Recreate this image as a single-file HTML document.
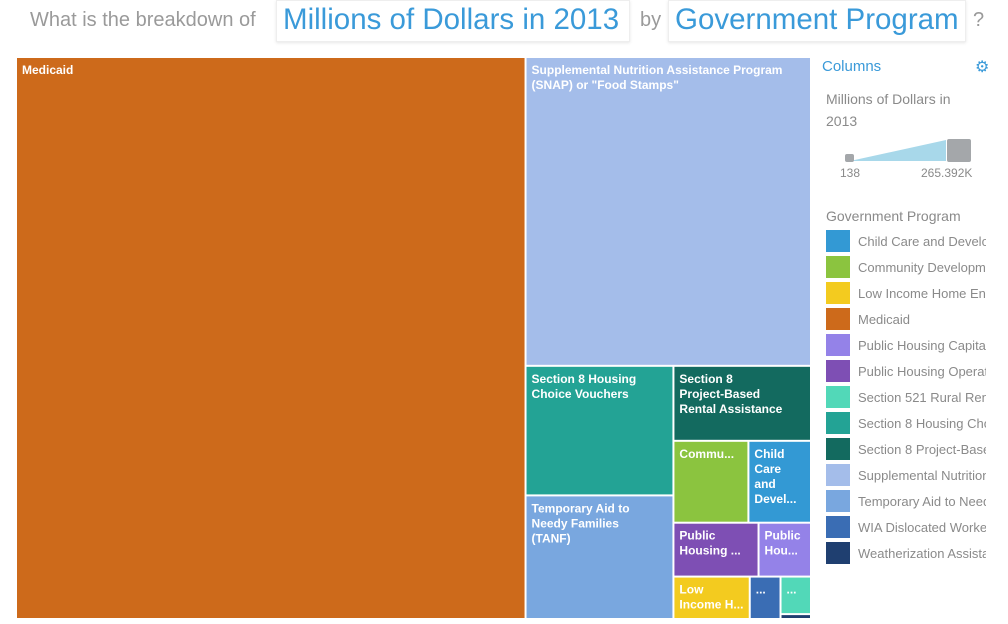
<!DOCTYPE html>
<html><head><meta charset="utf-8"><style>
body{margin:0;width:1008px;height:624px;overflow:hidden;background:#fff;font-family:"Liberation Sans",sans-serif;position:relative}
.q{position:absolute;color:#9a9a9a;font-size:20px;top:9px}
.box{position:absolute;top:0;height:42px;border:1px solid #eee;box-shadow:0 1px 3px rgba(0,0,0,.1);color:#3a9ad9;font-size:29.5px;line-height:38px;padding:0 6px;box-sizing:border-box;white-space:nowrap}
#legend{position:absolute;left:826px;top:228px;width:160px;overflow:hidden}
.li{height:26px;display:flex;align-items:center;font-size:13px;color:#8a8a8a;white-space:nowrap}
.sw{width:24px;height:22px;margin-right:8px;flex:none}
</style></head><body>
<div class="q" style="left:30px">What is the breakdown of</div>
<div class="box" style="left:276px;width:354px">Millions of Dollars in 2013</div>
<div class="q" style="left:640px">by</div>
<div class="box" style="left:668px;width:298px">Government Program</div>
<div class="q" style="left:973px">?</div>

<svg id="tm" width="1008" height="624" style="position:absolute;left:0;top:0"></svg>

<div style="position:absolute;left:822px;top:58px;color:#3a9ad9;font-size:15px">Columns</div>
<div style="position:absolute;left:975px;top:57px;color:#3a9ad9;font-size:16px">⚙</div>
<div style="position:absolute;left:826px;top:88px;color:#8a8a8a;font-size:14px;line-height:22px;width:150px">Millions of Dollars in 2013</div>
<svg style="position:absolute;left:840px;top:136px" width="140" height="45">
<polygon points="10,25 106,4 106,25" fill="#a8d8ea"/>
<rect x="5" y="18" width="9" height="8" rx="2" fill="#a4a7aa"/>
<rect x="107" y="3" width="24" height="23" rx="2" fill="#a4a7aa"/>
<text x="0" y="41" font-size="12" fill="#8a8a8a" font-family="Liberation Sans">138</text>
<text x="81" y="41" font-size="12" fill="#8a8a8a" font-family="Liberation Sans">265.392K</text>
</svg>
<div style="position:absolute;left:826px;top:208px;color:#8a8a8a;font-size:14px">Government Program</div>
<div id="legend"></div>

<script>
const programs=["Medicaid","Supplemental Nutrition Assistance Program (SNAP) or \"Food Stamps\"","Section 8 Housing Choice Vouchers","Temporary Aid to Needy Families (TANF)","Section 8 Project-Based Rental Assistance","Community Development Block Grant","Child Care and Development Fund","Public Housing Operating Fund","Public Housing Capital Fund","Low Income Home Energy Assistance","WIA Dislocated Workers","Section 521 Rural Rental Assistance","Weatherization Assistance"];
const values=[265392,81700,17760,16940,9560,5690,4750,4250,2620,3000,1210,1060,138];
const colors=["#cd6a1b","#a4bdea","#23a395","#79a7df","#136a5f","#8bc43f","#3399d4","#7e4fb4","#9482e8","#f3cb1f","#3a6db4","#52d8b8","#1f3f70"];
const labels=["Medicaid","Supplemental Nutrition Assistance Program|(SNAP) or \"Food Stamps\"","Section 8 Housing|Choice Vouchers","Temporary Aid to|Needy Families|(TANF)","Section 8|Project-Based|Rental Assistance","Commu...","Child|Care|and|Devel...","Public|Housing ...","Public|Hou...","Low|Income H...","...","...",""];
const legendOrder=[6,5,9,0,8,7,11,2,4,1,3,10,12];
const tree={d:'h',c:[0,{d:'v',c:[1,{d:'h',c:[{d:'v',c:[2,3]},{d:'v',c:[4,{d:'h',c:[5,6]},{d:'h',c:[7,8]},{d:'h',c:[9,10,{d:'v',c:[11,12]}]}]}]}]}]};
function sum(n){return typeof n==='number'?values[n]:n.c.reduce((a,b)=>a+sum(b),0);}
const svg=document.getElementById('tm');const NS='http://www.w3.org/2000/svg';
function lay(n,x,y,w,h){
 if(typeof n==='number'){draw(n,x,y,w,h);return;}
 const t=sum(n);let p=0;
 n.c.forEach(c=>{const f=sum(c)/t;
  if(n.d==='h'){lay(c,x+p,y,w*f,h);p+=w*f;}else{lay(c,x,y+p,w,h*f);p+=h*f;}});
}
function draw(i,x,y,w,h){
 const r=document.createElementNS(NS,'rect');
 r.setAttribute('x',x+1);r.setAttribute('y',y+1);r.setAttribute('width',Math.max(0,w-2));r.setAttribute('height',Math.max(0,h-2));r.setAttribute('fill',colors[i]);
 
 
 svg.appendChild(r);
 if(!labels[i])return;
 labels[i].split('|').forEach((s,k)=>{
  const t=document.createElementNS(NS,'text');
  t.setAttribute('x',x+6);t.setAttribute('y',y+17+k*15);t.setAttribute('fill','#fff');t.setAttribute('font-size','12');t.setAttribute('font-weight','bold');t.setAttribute('font-family','Liberation Sans, sans-serif');
  t.textContent=s;
  
  
  svg.appendChild(t);});
}
lay(tree,16,57,795,562);
const lg=document.getElementById('legend');
legendOrder.forEach(i=>{const d=document.createElement('div');d.className='li';
 
 
 d.innerHTML='<div class="sw" style="background:'+colors[i]+'"></div>'+programs[i];lg.appendChild(d);});
</script>
</body></html>
